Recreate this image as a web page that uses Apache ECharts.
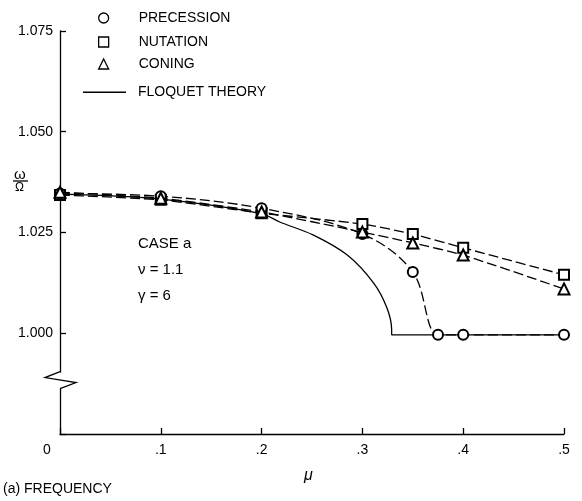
<!DOCTYPE html>
<html><head><meta charset="utf-8">
<script src="https://cdn.jsdelivr.net/npm/echarts@6/dist/echarts.min.js"></script>
<style>html,body{margin:0;padding:0;background:#fff}#c{width:582px;height:501px}</style>
</head><body><div id="c"></div>
<script>
// ---- data ----
const muTicks = [0, 0.1, 0.2, 0.3, 0.4, 0.5];
const muTickLabels = ['0', '.1', '.2', '.3', '.4', '.5'];
const yTicks = [0.975, 1.000, 1.025, 1.050, 1.075];
const yTickLabels = ['', '1.000', '1.025', '1.050', '1.075'];

const seriesNames = ['PRECESSION', 'NUTATION', 'CONING', 'FLOQUET THEORY'];

const precessionMu  = [0, 0.1, 0.2, 0.3, 0.35, 0.375, 0.4, 0.5];
const precessionVal = [1.0347, 1.0340, 1.0310, 1.0246, 1.0152, 0.9996, 0.9996, 0.9996];

const nutationMu  = [0, 0.1, 0.2, 0.3, 0.35, 0.4, 0.5];
const nutationVal = [1.0343, 1.0331, 1.0298, 1.0271, 1.0246, 1.0212, 1.0145];

const coningMu  = [0, 0.1, 0.2, 0.3, 0.35, 0.4, 0.5];
const coningVal = [1.0350, 1.0335, 1.0301, 1.0251, 1.0224, 1.0194, 1.0110];

const floquetMu  = [0, 0.1, 0.2, 0.218, 0.251, 0.285, 0.311, 0.324, 0.329, 0.329, 0.5];
const floquetVal = [1.0345, 1.0333, 1.0297, 1.0276, 1.0244, 1.0194, 1.0125, 1.0065, 1.0010, 0.9996, 0.9996];

const caseLines = ['CASE a', 'ν = 1.1', 'γ = 6'];
const xName = 'μ';
const caption = '(a) FREQUENCY';

// ---- build ----
const FONT = 'Liberation Sans';
const zip = (a, b) => a.map((v, i) => [v, b[i]]);
const chart = echarts.init(document.getElementById('c'), null, {renderer: 'canvas'});

const legendBase = {
  orient: 'vertical', padding: 0, itemWidth: 10, itemHeight: 10, selectedMode: false,
  textStyle: {fontFamily: FONT, fontSize: 14, color: '#000', padding: [0, 0, 0, 25]},
  itemStyle: {color: '#fff', borderColor: '#000', borderWidth: 1.3}
};

const option = {
  animation: false,
  backgroundColor: '#fff',
  grid: {left: 60, right: 18, top: 31, bottom: 67, containLabel: false},
  xAxis: {
    type: 'value', min: 0, max: 0.5, interval: 0.1,
    axisLine: {lineStyle: {color: '#000', width: 1.3}},
    axisTick: {inside: true, length: 6, lineStyle: {color: '#000', width: 1.3}},
    splitLine: {show: false},
    axisLabel: {
      margin: 9, color: '#000', fontFamily: FONT, fontSize: 14,
      formatter: v => {
        const i = muTicks.findIndex(t => Math.abs(t - v) < 1e-9);
        const s = i >= 0 ? muTickLabels[i] : '';
        return i === 0 ? '{z|' + s + '}' : s;
      },
      rich: {z: {fontFamily: FONT, fontSize: 14, color: '#000', padding: [0, 26, 0, 0]}}
    }
  },
  yAxis: {
    type: 'value', min: 0.975, max: 1.075, interval: 0.025,
    axisLine: {show: true, lineStyle: {color: '#000', width: 1.3}},
    axisTick: {show: true, inside: true, length: 6, lineStyle: {color: '#000', width: 1.3}},
    splitLine: {show: false},
    axisLabel: {
      margin: 7, color: '#000', fontFamily: FONT, fontSize: 14,
      formatter: v => {
        const i = yTicks.findIndex(t => Math.abs(t - v) < 1e-9);
        return i >= 0 ? yTickLabels[i] : '';
      }
    }
  },
  legend: [
    Object.assign({}, legendBase, {left: 98, top: 11, data: [{name: seriesNames[0], icon: 'circle'}]}),
    Object.assign({}, legendBase, {left: 98, top: 35, data: [{name: seriesNames[1], icon: 'rect'}]}),
    Object.assign({}, legendBase, {left: 98, top: 57, data: [{name: seriesNames[2], icon: 'triangle'}]}),
    Object.assign({}, legendBase, {left: 83, top: 85.3, itemWidth: 43, itemHeight: 1.4,
      textStyle: {fontFamily: FONT, fontSize: 14, color: '#000', padding: [0, 0, 0, 7]},
      itemStyle: {color: '#000', borderWidth: 0},
      data: [{name: seriesNames[3], icon: 'rect'}]})
  ],
  series: [
    {
      name: seriesNames[3], type: 'line', data: zip(floquetMu, floquetVal),
      symbol: 'none', smooth: 0.3, z: 2,
      lineStyle: {color: '#000', width: 1.3}, itemStyle: {color: '#000'}
    },
    {
      name: seriesNames[0], type: 'line', data: zip(precessionMu, precessionVal),
      symbol: 'emptyCircle', symbolSize: 10, smooth: 0.35, z: 4,
      lineStyle: {color: '#000', width: 1.3, type: [10, 4]},
      itemStyle: {color: '#000', borderColor: '#000', borderWidth: 1.3}
    },
    {
      name: seriesNames[1], type: 'line', data: zip(nutationMu, nutationVal),
      symbol: 'emptyRect', symbolSize: 10, smooth: 0.2, z: 3,
      lineStyle: {color: '#000', width: 1.3, type: [10, 4]},
      itemStyle: {color: '#000', borderColor: '#000', borderWidth: 1.3}
    },
    {
      name: seriesNames[2], type: 'line', data: zip(coningMu, coningVal),
      symbol: 'emptyTriangle', symbolSize: 11, smooth: 0.2, z: 5,
      lineStyle: {color: '#000', width: 1.3, type: [10, 4]},
      itemStyle: {color: '#000', borderColor: '#000', borderWidth: 1.3}
    }
  ]
};
chart.setOption(option);

// ---- annotations (axis break, labels) ----
const origin = chart.convertToPixel({gridIndex: 0}, [0, 1.000]);
const bottom = chart.convertToPixel({gridIndex: 0}, [0, 0.975]);
const ax = origin[0];
const by = origin[1] + (bottom[1] - origin[1]) * 0.47; // break sits between 1.000 and axis bottom
const textStyle = (extra) => Object.assign({fontFamily: FONT, fontSize: 15, fill: '#000'}, extra);

chart.setOption({
  graphic: [
    {type: 'rect', shape: {x: ax - 3, y: by - 8, width: 6, height: 16}, style: {fill: '#fff'}, z: 100},
    {type: 'polyline', shape: {points: [[ax, by - 9], [ax - 15, by - 3], [ax + 16, by + 2], [ax, by + 8]]},
     style: {stroke: '#000', lineWidth: 1.3, fill: null}, z: 101},
    {type: 'text', left: 138, top: 236, style: textStyle({text: caseLines[0]})},
    {type: 'text', left: 138, top: 262, style: textStyle({text: caseLines[1]})},
    {type: 'text', left: 138, top: 288, style: textStyle({text: caseLines[2]})},
    {type: 'text', left: 304, top: 468, style: textStyle({text: xName, fontSize: 16, fontStyle: 'italic'})},
    {type: 'text', left: 3, top: 482, style: textStyle({text: caption, fontSize: 14})},
    {type: 'text', left: 14, top: 167, style: textStyle({text: 'ω', fontSize: 15})},
    {type: 'line', shape: {x1: 13, y1: 181, x2: 28, y2: 181}, style: {stroke: '#000', lineWidth: 1.3}},
    {type: 'text', left: 15, top: 182, style: textStyle({text: 'Ω', fontSize: 12})}
  ]
});
</script>
</body></html>
